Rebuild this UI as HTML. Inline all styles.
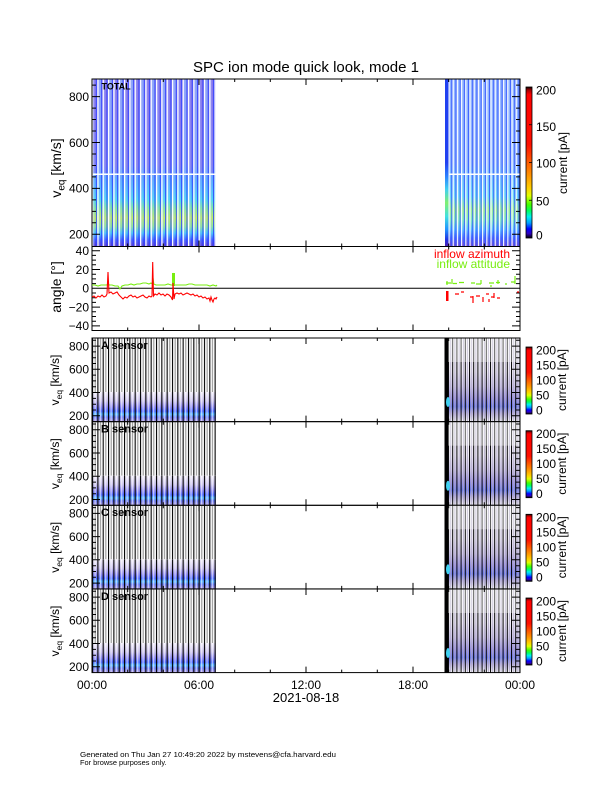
<!DOCTYPE html>
<html><head><meta charset="utf-8"><style>
html,body{margin:0;padding:0;background:#fff;}
svg{display:block;font-family:"Liberation Sans",Arial,sans-serif;}
</style></head><body>
<svg width="612" height="792" viewBox="0 0 612 792" xmlns="http://www.w3.org/2000/svg">
<defs>
 <linearGradient id="cb" x1="0" y1="1" x2="0" y2="0">
  <stop offset="0" stop-color="#000"/>
  <stop offset="0.03" stop-color="#3000c0"/>
  <stop offset="0.06" stop-color="#0000ff"/>
  <stop offset="0.10" stop-color="#00a0ff"/>
  <stop offset="0.14" stop-color="#00f0f0"/>
  <stop offset="0.18" stop-color="#00ff60"/>
  <stop offset="0.22" stop-color="#40ff00"/>
  <stop offset="0.28" stop-color="#e0ff00"/>
  <stop offset="0.33" stop-color="#ffd000"/>
  <stop offset="0.42" stop-color="#ff9000"/>
  <stop offset="0.52" stop-color="#ff5000"/>
  <stop offset="0.62" stop-color="#ff1000"/>
  <stop offset="0.95" stop-color="#ff0000"/>
  <stop offset="0.98" stop-color="#a00000"/>
  <stop offset="1" stop-color="#000"/>
 </linearGradient>
 <linearGradient id="gTL" x1="0" y1="0" x2="0" y2="1">
  <stop offset="0" stop-color="#9088f0"/>
  <stop offset="0.245" stop-color="#8c8cf4"/>
  <stop offset="0.51" stop-color="#8898f8"/>
  <stop offset="0.59" stop-color="#58a8ff"/>
  <stop offset="0.66" stop-color="#50c0ff"/>
  <stop offset="0.72" stop-color="#48dcf0"/>
  <stop offset="0.77" stop-color="#80f098"/>
  <stop offset="0.83" stop-color="#c0f460"/>
  <stop offset="0.88" stop-color="#90ec90"/>
  <stop offset="0.92" stop-color="#40c8f8"/>
  <stop offset="0.96" stop-color="#3858ff"/>
  <stop offset="1" stop-color="#5a30c8"/>
 </linearGradient>
 <linearGradient id="gTR" x1="0" y1="0" x2="0" y2="1">
  <stop offset="0" stop-color="#90b4ff"/>
  <stop offset="0.5" stop-color="#88b0ff"/>
  <stop offset="0.6" stop-color="#70c0ff"/>
  <stop offset="0.7" stop-color="#68d4f8"/>
  <stop offset="0.78" stop-color="#98ec98"/>
  <stop offset="0.84" stop-color="#80e8c0"/>
  <stop offset="0.9" stop-color="#58b8ff"/>
  <stop offset="0.95" stop-color="#4868ff"/>
  <stop offset="1" stop-color="#7048d0"/>
 </linearGradient>
 <linearGradient id="gTC" x1="0" y1="0" x2="0" y2="1">
  <stop offset="0" stop-color="#2040f0"/>
  <stop offset="0.5" stop-color="#2040f0"/>
  <stop offset="0.58" stop-color="#2a80ff"/>
  <stop offset="0.66" stop-color="#40d0f0"/>
  <stop offset="0.74" stop-color="#80f070"/>
  <stop offset="0.82" stop-color="#40e0e0"/>
  <stop offset="0.9" stop-color="#2090ff"/>
  <stop offset="0.96" stop-color="#2030e0"/>
  <stop offset="1" stop-color="#5020b0"/>
 </linearGradient>
 <linearGradient id="gSL" x1="0" y1="0" x2="0" y2="1">
  <stop offset="0" stop-color="#f0ecf8"/>
  <stop offset="0.3" stop-color="#c8c0ec"/>
  <stop offset="0.5" stop-color="#8c88f0"/>
  <stop offset="0.65" stop-color="#4c68ff"/>
  <stop offset="0.75" stop-color="#58b8ff"/>
  <stop offset="0.85" stop-color="#6878f0"/>
  <stop offset="1" stop-color="#a898dc"/>
 </linearGradient>
 <linearGradient id="gSR" x1="0" y1="0" x2="0" y2="1">
  <stop offset="0" stop-color="#ffffff"/>
  <stop offset="0.4" stop-color="#f4f0fa"/>
  <stop offset="0.58" stop-color="#d4ccf0"/>
  <stop offset="0.72" stop-color="#a098ea"/>
  <stop offset="0.82" stop-color="#7080f0"/>
  <stop offset="0.9" stop-color="#c0b8e8"/>
  <stop offset="1" stop-color="#ffffff"/>
 </linearGradient>
 <pattern id="pTL" patternUnits="userSpaceOnUse" x="92" y="0" width="5.33" height="1000">
  <rect x="0" y="0" width="1.3" height="1000" fill="#fff"/>
  <rect x="1.3" y="0" width="1.6" height="1000" fill="#a0b0ff" opacity="0.3"/>
  <rect x="3.9" y="0" width="0.9" height="1000" fill="#3040ff"/>
 </pattern>
 <pattern id="pTU" patternUnits="userSpaceOnUse" x="92" y="0" width="10.66" height="1000">
  <rect x="1.3" y="0" width="2.6" height="1000" fill="#7a58e0" opacity="0.45"/>
  <rect x="6.63" y="0" width="2.6" height="1000" fill="#80c0ff" opacity="0.45"/>
 </pattern>
 <pattern id="pTR" patternUnits="userSpaceOnUse" x="448.5" y="0" width="4.2" height="1000">
  <rect x="0" y="0" width="1.1" height="1000" fill="#fff"/>
  <rect x="2.8" y="0" width="0.8" height="1000" fill="#3050ff"/>
 </pattern>
 <pattern id="pSU" patternUnits="userSpaceOnUse" x="92" y="0" width="5.33" height="1000">
  <rect x="0" y="0" width="1.1" height="1000" fill="#000"/>
  <rect x="2.7" y="0" width="1" height="1000" fill="#8a8a8a"/>
 </pattern>
 <pattern id="pSL" patternUnits="userSpaceOnUse" x="92" y="0" width="5.33" height="1000">
  <rect x="0" y="0" width="1.1" height="1000" fill="#000"/>
  <rect x="2.6" y="0" width="1" height="1000" fill="#fff" opacity="0.7"/>
 </pattern>
 <pattern id="pRA" patternUnits="userSpaceOnUse" x="448" y="0" width="4.2" height="1000">
  <rect x="0" y="0" width="1" height="1000" fill="#000"/>
  <rect x="2.3" y="0" width="0.8" height="1000" fill="#a8a0c0"/>
 </pattern>

 <g id="sens">
  <rect x="92" y="0" width="124" height="54" fill="url(#pSU)"/>
  <rect x="92" y="54" width="124" height="29.6" fill="url(#gSL)"/>
  <rect x="92" y="54" width="124" height="29.6" fill="url(#pSL)"/>
  <rect x="448" y="0" width="72" height="83.6" fill="url(#gSR)"/>
  <rect x="448" y="0" width="72" height="83.6" fill="url(#pRA)"/>
  <rect x="448" y="0" width="72" height="24" fill="#fff" opacity="0.35"/>
  <rect x="444.5" y="0" width="3.5" height="83.6" fill="#000"/>
  <ellipse cx="448" cy="64" rx="2" ry="5" fill="#40d0f0"/>
  <rect x="92" y="0" width="428" height="83.6" fill="none" stroke="#000" stroke-width="1"/>
  <path stroke="#000" stroke-width="1" fill="none" d="M92 8.1h8M92 31.3h8M92 54.5h8M92 77.8h8M92 2.3h4M92 13.9h4M92 19.7h4M92 25.5h4M92 37.1h4M92 42.9h4M92 48.7h4M92 60.4h4M92 66.2h4M92 72h4
  M520 8.1h-8M520 31.3h-8M520 54.5h-8M520 77.8h-8M520 2.3h-4M520 13.9h-4M520 19.7h-4M520 25.5h-4M520 37.1h-4M520 42.9h-4M520 48.7h-4M520 60.4h-4M520 66.2h-4M520 72h-4
  M127.7 0v3M163.3 0v3M199 0v6M234.7 0v3M270.3 0v3M306 0v6M341.7 0v3M377.3 0v3M413 0v6M448.7 0v3M484.3 0v3
  M127.7 83.6v-3M163.3 83.6v-3M199 83.6v-6M234.7 83.6v-3M270.3 83.6v-3M306 83.6v-6M341.7 83.6v-3M377.3 83.6v-3M413 83.6v-6M448.7 83.6v-3M484.3 83.6v-3"/>
  <g font-size="12" text-anchor="end" fill="#000">
   <text x="89" y="12.4">800</text>
   <text x="89" y="35.6">600</text>
   <text x="89" y="58.8">400</text>
   <text x="89" y="82.1">200</text>
  </g>
  <text transform="translate(59,42) rotate(-90)" font-size="12" text-anchor="middle">v<tspan font-size="8.5" dy="3">eq</tspan><tspan dy="-3"> [km/s]</tspan></text>
  <rect x="526" y="9" width="6" height="67" fill="url(#cb)" stroke="#000" stroke-width="0.8"/>
  <g font-size="12" fill="#000">
   <text x="536" y="16.3">200</text>
   <text x="536" y="31.3">150</text>
   <text x="536" y="46.3">100</text>
   <text x="536" y="61.3">50</text>
   <text x="536" y="76.3">0</text>
  </g>
  <text transform="translate(566,42) rotate(-90)" font-size="12" text-anchor="middle">current [pA]</text>
 </g>
</defs>

<!-- Title -->
<text x="306" y="72" font-size="15" text-anchor="middle" textLength="226" lengthAdjust="spacingAndGlyphs">SPC ion mode quick look, mode 1</text>

<!-- TOP PANEL -->
<rect x="92" y="79" width="124" height="167.5" fill="url(#gTL)"/>
<rect x="92" y="79" width="124" height="94" fill="url(#pTU)"/>
<rect x="92" y="79" width="124" height="167.5" fill="url(#pTL)"/>
<rect x="92" y="173.5" width="124" height="1.5" fill="#fff"/>
<rect x="448.5" y="79" width="71.5" height="167.5" fill="url(#gTR)"/>
<rect x="448.5" y="79" width="71.5" height="167.5" fill="url(#pTR)"/>
<rect x="445" y="79" width="3.5" height="167.5" fill="url(#gTC)"/>
<rect x="448.5" y="173.5" width="71.5" height="1.5" fill="#fff"/>
<rect x="92" y="79" width="428" height="167.5" fill="none" stroke="#000" stroke-width="1"/>
<path stroke="#000" stroke-width="1" fill="none" d="M92 234.3h8M92 188.4h8M92 142.5h8M92 96.6h8M92 222.8h4M92 211.35h4M92 199.9h4M92 176.9h4M92 165.45h4M92 154h4M92 131h4M92 119.55h4M92 108.1h4M92 85.1h4
M520 234.3h-8M520 188.4h-8M520 142.5h-8M520 96.6h-8M520 222.8h-4M520 211.35h-4M520 199.9h-4M520 176.9h-4M520 165.45h-4M520 154h-4M520 131h-4M520 119.55h-4M520 108.1h-4M520 85.1h-4
M127.7 79v3M163.3 79v3M199 79v6M234.7 79v3M270.3 79v3M306 79v6M341.7 79v3M377.3 79v3M413 79v6M448.7 79v3M484.3 79v3
M127.7 246.5v-3M163.3 246.5v-3M199 246.5v-6M234.7 246.5v-3M270.3 246.5v-3M306 246.5v-6M341.7 246.5v-3M377.3 246.5v-3M413 246.5v-6M448.7 246.5v-3M484.3 246.5v-3"/>
<text x="101.5" y="89.5" font-size="9" font-weight="bold">TOTAL</text>
<g font-size="12" text-anchor="end">
 <text x="89" y="101">800</text>
 <text x="89" y="147">600</text>
 <text x="89" y="192.7">400</text>
 <text x="89" y="238.6">200</text>
</g>
<text transform="translate(61,168) rotate(-90)" font-size="14" text-anchor="middle">v<tspan font-size="10" dy="3.5">eq</tspan><tspan dy="-3.5"> [km/s]</tspan></text>
<rect x="526" y="87" width="6" height="151" fill="url(#cb)" stroke="#000" stroke-width="0.8"/>
<path stroke="#000" stroke-width="0.8" d="M529 124.75h3M529 162.5h3M529 200.25h3"/>
<g font-size="12">
 <text x="536" y="94.3">200</text>
 <text x="536" y="131">150</text>
 <text x="536" y="167.5">100</text>
 <text x="536" y="205.3">50</text>
 <text x="536" y="239.5">0</text>
</g>
<text transform="translate(567,163) rotate(-90)" font-size="12" text-anchor="middle">current [pA]</text>

<!-- ANGLE PANEL -->
<rect x="92" y="246.5" width="428" height="84" fill="none" stroke="#000" stroke-width="1"/>
<line x1="92" y1="288.3" x2="520" y2="288.3" stroke="#000" stroke-width="1"/>
<path stroke="#000" stroke-width="1" fill="none" d="M92 250.7h8M92 269.5h8M92 307.1h8M92 325.9h8M92 255.4h4M92 260.1h4M92 264.8h4M92 274.2h4M92 278.9h4M92 283.6h4M92 293h4M92 297.7h4M92 302.4h4M92 311.8h4M92 316.5h4M92 321.2h4
M520 250.7h-8M520 269.5h-8M520 307.1h-8M520 325.9h-8M520 255.4h-4M520 260.1h-4M520 264.8h-4M520 274.2h-4M520 278.9h-4M520 283.6h-4M520 293h-4M520 297.7h-4M520 302.4h-4M520 311.8h-4M520 316.5h-4M520 321.2h-4
M127.7 246.5v3M163.3 246.5v3M199 246.5v6M234.7 246.5v3M270.3 246.5v3M306 246.5v6M341.7 246.5v3M377.3 246.5v3M413 246.5v6M448.7 246.5v3M484.3 246.5v3
M127.7 330.5v-3M163.3 330.5v-3M199 330.5v-6M234.7 330.5v-3M270.3 330.5v-3M306 330.5v-6M341.7 330.5v-3M377.3 330.5v-3M413 330.5v-6M448.7 330.5v-3M484.3 330.5v-3"/>
<g font-size="12" text-anchor="end">
 <text x="89" y="255">40</text>
 <text x="89" y="273.8">20</text>
 <text x="89" y="292.6">0</text>
 <text x="89" y="311.4">−20</text>
 <text x="89" y="330.2">−40</text>
</g>
<text transform="translate(61,287) rotate(-90)" font-size="14" text-anchor="middle">angle [°]</text>
<!-- green series -->
<polyline fill="none" stroke="#78ee10" stroke-width="1.1" points="92,285 95,285 98,286 101,285 104,285 107,285 108,283 109,285 112,285 115,286 118,286 120,289 122,286 125,285 128,285 131,284 134,285 137,284 140,284 143,283 146,283 149,284 151,283 152.5,284 153,278 153.8,284 156,285 159,285 162,285 165,285 168,284 171,285 172.5,285 173,273 173.7,276 174.5,285 177,285 180,285 183,285 186,285 189,284 192,284 195,285 198,285 201,285 204,285 207,285 210,286 213,285 216,286 217,285"/>
<rect x="172" y="273" width="3" height="13" fill="#78ee10"/>
<!-- red series -->
<polyline fill="none" stroke="#ff0000" stroke-width="1.1" points="92,297 94,296 96,298 98,296 100,297 102,295 104,297 106,296 107,294 108,272 109,293 111,292 113,294 115,293 117,292 119,295 121,297 123,299 125,297 127,298 129,296 131,295 133,297 135,296 137,298 139,297 141,296 143,295 145,297 147,298 149,296 151,297 152,296 152.7,262 153.5,296 155,294 157,295 159,293 161,295 163,294 165,296 167,294 169,295 171,297 172.5,300 173,283 174,299 175,294 177,293 179,294 181,293 183,295 185,294 187,293 189,294 191,295 193,294 195,296 197,295 199,297 201,296 203,298 205,297 207,299 209,298 210,301 211,297 212,300 213,302 214,299 215,298 216,299 217,297"/>
<!-- right scattered -->
<g stroke="#78ee10" stroke-width="1.2" fill="none">
 <path d="M446 283h5M453 283.5h4M459 282.5h5M471 283h4M476 284h5M489 283h5M496 282.5h4M511 282h4M447 281v4M452 279v5M481 280v4M498 280v4M515 276v8M491 285v2M505 284h2"/>
</g>
<g stroke="#ff0000" stroke-width="1.2" fill="none">
 <path d="M455 294h4M461 292h3M470 297h3M476 296h4M486 294h3M491 297h3M497 298h3M517 292h2M473 296v7M483 297v5M494 293v5M489 299v3"/>
</g>
<rect x="446" y="291" width="2.5" height="10" fill="#ff0000"/>
<g font-size="12" text-anchor="end">
 <text x="510" y="258" fill="#ff0000">inflow azimuth</text>
 <text x="510" y="268" fill="#78ee10">inflow attitude</text>
</g>

<!-- SENSOR PANELS -->
<use href="#sens" transform="translate(0,338)"/>
<use href="#sens" transform="translate(0,421.7)"/>
<use href="#sens" transform="translate(0,505.3)"/>
<use href="#sens" transform="translate(0,589)"/>
<g font-size="11" font-weight="bold">
 <text x="101" y="348.8">A sensor</text>
 <text x="101" y="432.5">B sensor</text>
 <text x="101" y="516.1">C sensor</text>
 <text x="101" y="599.8">D sensor</text>
</g>

<!-- X axis labels -->
<g font-size="12" text-anchor="middle">
 <text x="92" y="689">00:00</text>
 <text x="199" y="689">06:00</text>
 <text x="306" y="689">12:00</text>
 <text x="413" y="689">18:00</text>
 <text x="520" y="689">00:00</text>
</g>
<text x="306" y="702" font-size="13" text-anchor="middle">2021-08-18</text>

<!-- Footer -->
<text x="80" y="757" font-size="7.4" textLength="256" lengthAdjust="spacingAndGlyphs">Generated on Thu Jan 27 10:49:20 2022 by mstevens@cfa.harvard.edu</text>
<text x="80" y="765" font-size="7.4">For browse purposes only.</text>
</svg>
</body></html>
